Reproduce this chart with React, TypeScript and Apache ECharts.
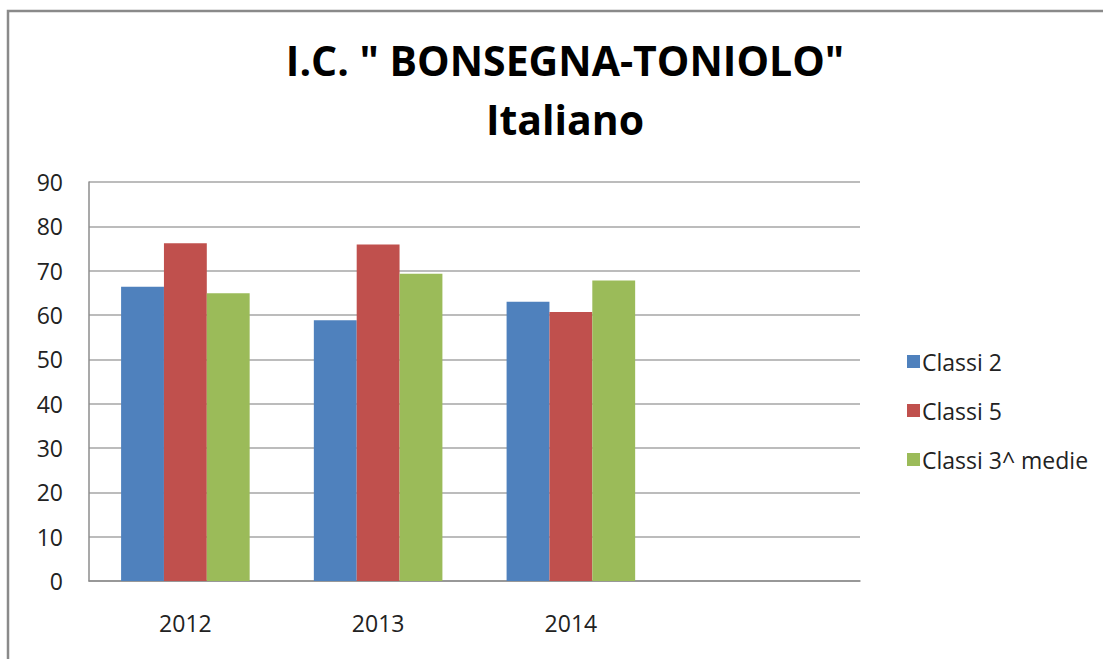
import React, { useEffect, useRef } from "react";
import * as echarts from "echarts";

const categories = ["2012", "2013", "2014", ""];
const classi2 = [66.4, 58.8, 63.0];
const classi5 = [76.2, 75.9, 60.7];
const classi3medie = [64.9, 69.3, 67.8];
const seriesNames = ["Classi 2", "Classi 5", "Classi 3^ medie"];
const yTicks = [0, 90, 10];

const FONT = "Open Sans";

export default function App() {
  const ref = useRef<HTMLDivElement>(null);
  useEffect(() => {
    if (!ref.current) return;
    const chart = echarts.init(ref.current, null, { renderer: "svg" });
    const colors = ["#4F81BD", "#C0504D", "#9BBB59"];
    const datasets = [classi2, classi5, classi3medie];
    chart.setOption({
      animation: false,
      backgroundColor: "#ffffff",
      title: {
        text: 'I.C. " BONSEGNA-TONIOLO"\nItaliano',
        left: 560,
        textAlign: "center",
        top: 25,
        textStyle: {
          fontFamily: FONT,
          fontWeight: "bold",
          fontSize: 41,
          lineHeight: 59,
          color: "#000000",
        },
      },
      graphic: [
        {
          type: "rect",
          shape: { x: 8, y: 11, width: 1200, height: 700 },
          style: { fill: "none", stroke: "#8a8a8a", lineWidth: 2.5 },
          silent: true,
        },
      ],
      legend: {
        orient: "vertical",
        left: 902,
        top: 345,
        itemWidth: 13,
        itemHeight: 13,
        itemGap: 26,
        icon: "rect",
        textStyle: {
          fontFamily: FONT,
          fontSize: 23,
          lineHeight: 23,
          color: "#222222",
          padding: [0, 0, 0, -3],
        },
        data: seriesNames,
      },
      grid: { left: 89, right: 243, top: 182, bottom: 78, containLabel: false },
      xAxis: {
        type: "category",
        data: categories,
        axisLine: { show: true, lineStyle: { color: "#8c8c8c", width: 1.5 } },
        axisTick: { show: false },
        axisLabel: {
          fontFamily: FONT,
          fontSize: 23,
          color: "#222222",
          margin: 30,
        },
      },
      yAxis: {
        type: "value",
        min: yTicks[0],
        max: yTicks[1],
        interval: yTicks[2],
        axisLine: { show: true, lineStyle: { color: "#8c8c8c", width: 1.5 } },
        axisTick: { show: false },
        splitLine: { show: true, lineStyle: { color: "#a6a6a6", width: 1.5 } },
        axisLabel: {
          fontFamily: FONT,
          fontSize: 23,
          color: "#222222",
          margin: 26,
        },
      },
      series: seriesNames.map((name, i) => ({
        name,
        type: "bar",
        data: datasets[i],
        barGap: "0%",
        barCategoryGap: "33.3%",
        itemStyle: { color: colors[i] },
      })),
    });
    return () => chart.dispose();
  }, []);
  return (
    <div
      ref={ref}
      style={{ position: "fixed", left: 0, top: 0, width: 1103, height: 659 }}
    />
  );
}
